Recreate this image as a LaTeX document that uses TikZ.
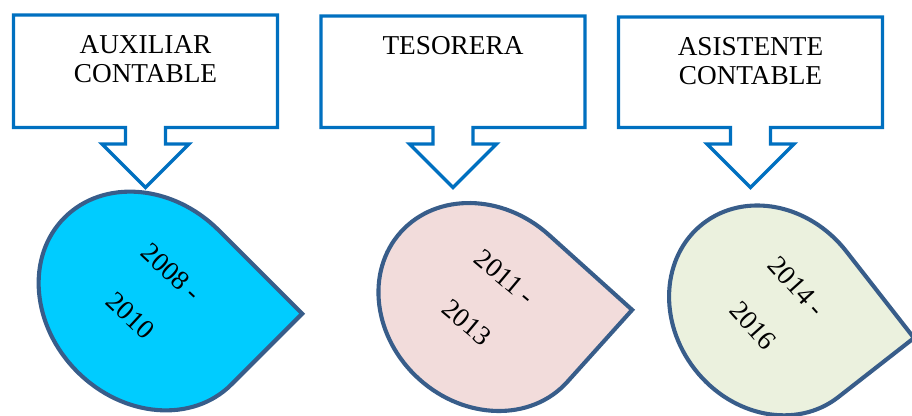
\documentclass[tikz,border=0pt]{standalone}
\usepackage{fontspec}
\setmainfont{Liberation Serif}
\definecolor{calloutblue}{RGB}{0,112,192}
\definecolor{dropline}{RGB}{56,93,138}
\definecolor{dropcyan}{RGB}{0,204,255}
\definecolor{droppink}{RGB}{242,220,219}
\definecolor{dropgreen}{RGB}{235,241,222}
\tikzset{
    callout/.style={draw=calloutblue, line width=1.5pt, fill=white},
    drop/.style={draw=dropline, line width=1.8pt},
    jobtext/.style={font=\fontsize{12}{12.8}\selectfont, align=center, anchor=north, inner sep=0pt},
    yeartext/.style={font=\fontsize{12}{26}\selectfont, align=center, inner sep=0pt}
}
\begin{document}
\begin{tikzpicture}[x=0.44pt, y=0.44pt]
    \useasboundingbox (0,0) rectangle (912,-415);

    % Callouts with the jobs
    \foreach \cx/\ty/\nm/\job in {145.5/-15/jobA/{AUXILIAR\\CONTABLE}, 453/-16/jobB/{TESORERA}, 750.5/-17/jobC/{ASISTENTE\\CONTABLE}}{
        \draw[callout] (\cx-20,-127.5) -- (\cx-132,-127.5) -- (\cx-132,\ty) -- (\cx+132,\ty) -- (\cx+132,-127.5) -- (\cx+20,-127.5)
            -- (\cx+20,-144) -- (\cx+43.5,-144) -- (\cx,-187.5) -- (\cx-43.5,-144) -- (\cx-20,-144) -- cycle;
        \node[jobtext] (\nm) at (\cx,\ty-20) {\job};
    }

    % Drop for 2008-2010
    \begin{scope}[shift={(148,-301)}, rotate=-45]
        \draw[drop, fill=dropcyan] (118,0) -- (118,100) -- (0,100) arc[start angle=90, end angle=360, x radius=118, y radius=100] -- cycle;
    \end{scope}
    \node[yeartext, rotate=-43] (yearsA) at (151,-294) {2008 -\\2010};

    % Drop for 2011-2013
    \begin{scope}[shift={(484,-307)}, rotate=-42]
        \draw[drop, fill=droppink] (112,0) -- (112,97) -- (0,97) arc[start angle=90, end angle=360, x radius=112, y radius=97] -- cycle;
    \end{scope}
    \node[yeartext, rotate=-40] (yearsB) at (486,-300) {2011 -\\2013};

    % Drop for 2014-2016
    \begin{scope}[shift={(770.6,-310.4)}, rotate=-52]
        \draw[drop, fill=dropgreen] (110,0) -- (110,96) -- (0,96) arc[start angle=90, end angle=360, x radius=110, y radius=96] -- cycle;
    \end{scope}
    \node[yeartext, rotate=-48] (yearsC) at (775,-306) {2014 -\\2016};
\end{tikzpicture}
\end{document}
